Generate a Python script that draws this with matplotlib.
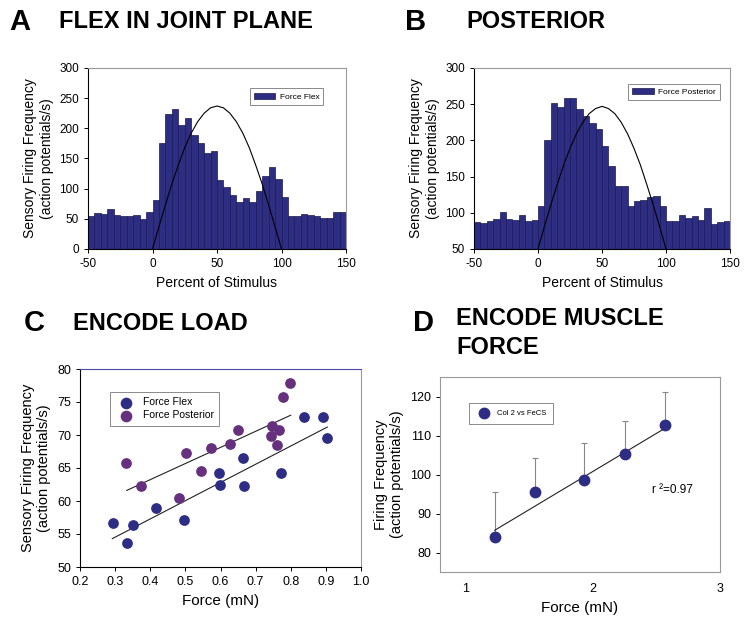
import matplotlib
matplotlib.use("Agg")
import matplotlib.pyplot as plt
import numpy as np

plt.rcParams['font.family'] = ['Liberation Sans', 'DejaVu Sans']
plt.rcParams['axes.unicode_minus'] = False

# histogram bins (left edges, width 5 %)
bin_left = list(range(-50, 150, 5))

flex_hist = [55, 60, 58, 67, 57, 55, 55, 57, 50, 62,
             81, 176, 224, 232, 205, 217, 189, 176, 159, 162,
             115, 103, 90, 78, 85, 78, 96, 121, 136, 116,
             87, 55, 55, 58, 56, 54, 51, 52, 62, 61]

post_hist = [87, 86, 89, 92, 101, 92, 90, 97, 88, 90,
             110, 201, 252, 246, 259, 258, 244, 234, 224, 216,
             192, 165, 137, 137, 109, 116, 117, 122, 123, 110,
             89, 88, 97, 93, 95, 90, 106, 85, 87, 88]

# stimulus trace
stim_x = list(range(0, 105, 5))
flex_stim = [0, 37, 73, 108, 139, 168, 192, 211, 225, 234, 237,
             234, 225, 211, 192, 168, 139, 108, 73, 37, 0]
post_stim = [50, 81, 111, 139, 166, 189, 209, 225, 237, 244, 247,
             244, 237, 225, 209, 189, 166, 139, 111, 81, 50]

# panel C
flex_force = [0.294, 0.333, 0.352, 0.415, 0.495, 0.596, 0.598, 0.664, 0.668, 0.771, 0.838, 0.892, 0.904]
flex_freq = [56.6, 53.7, 56.3, 58.9, 57.1, 64.3, 62.5, 66.5, 62.3, 64.3, 72.7, 72.7, 69.5]
post_force = [0.332, 0.375, 0.483, 0.503, 0.544, 0.572, 0.627, 0.650, 0.743, 0.747, 0.767, 0.760, 0.778, 0.799]
post_freq = [65.7, 62.2, 60.5, 67.2, 64.5, 68.0, 68.7, 70.7, 69.9, 71.3, 70.7, 68.5, 75.8, 77.9]
flex_fit_x, flex_fit_y = [0.292, 0.904], [54.3, 71.2]
post_fit_x, post_fit_y = [0.333, 0.800], [61.6, 73.0]

# panel D
col_force = [1.23, 1.55, 1.93, 2.25, 2.57]
col_freq = [84.1, 95.5, 98.6, 105.3, 112.8]
col_err = [11.3, 8.7, 9.5, 8.5, 8.4]
col_fit_x, col_fit_y = [1.23, 2.57], [85.7, 111.9]

navy = '#2d2d84'
purple = '#66307f'
W, H = 751, 630

fig = plt.figure(figsize=(W / 100, H / 100), dpi=100)


def ax_at(l, t, r, b):
    return fig.add_axes([l / W, 1 - b / H, (r - l) / W, (b - t) / H])


def style(ax, top='#999999', right='#999999', size=8.5):
    ax.spines['top'].set_color(top)
    ax.spines['right'].set_color(right)
    for s in ax.spines.values():
        s.set_linewidth(0.8)
    ax.tick_params(labelsize=size, length=3, width=0.7)


def hist_panel(ax, vals, stim, label, ylim, yticks, leg_box):
    ax.bar(bin_left, vals, width=5, align='edge', color=navy,
           edgecolor='#1a1a4a', linewidth=0.5, label=label)
    ax.plot(stim_x, stim, color='black', lw=0.8)
    ax.set_xlim(-50, 150)
    ax.set_ylim(*ylim)
    ax.set_xticks([-50, 0, 50, 100, 150])
    ax.set_yticks(yticks)
    ax.set_xlabel('Percent of Stimulus', fontsize=10, labelpad=4)
    ax.set_ylabel('Sensory Firing Frequency\n(action potentials/s)', fontsize=10, labelpad=4)
    style(ax)
    leg = ax.legend(loc='upper left', bbox_to_anchor=leg_box, fontsize=6,
                    frameon=True, fancybox=False, handlelength=2.6, handleheight=0.8,
                    borderpad=0.5, handletextpad=0.5)
    leg.get_frame().set_edgecolor('#555555')
    leg.get_frame().set_linewidth(0.6)


axA = ax_at(88, 68, 346, 249)
hist_panel(axA, flex_hist, flex_stim, 'Force Flex', (0, 300), range(0, 301, 50), (0.61, 0.91))

axB = ax_at(474, 68, 730, 249)
hist_panel(axB, post_hist, post_stim, 'Force Posterior', (50, 300), range(50, 301, 50), (0.585, 0.935))

# panel C
axC = ax_at(80, 369, 361, 567)
axC.scatter(flex_force, flex_freq, s=45, color=navy, label='Force Flex', zorder=3)
axC.scatter(post_force, post_freq, s=45, color=purple, label='Force Posterior', zorder=3)
axC.plot(flex_fit_x, flex_fit_y, color='#222222', lw=0.8)
axC.plot(post_fit_x, post_fit_y, color='#222222', lw=0.8)
axC.set_xlim(0.2, 1.0)
axC.set_ylim(50, 80)
axC.set_xticks(np.arange(0.2, 1.01, 0.1))
axC.set_xticklabels(['0.2', '0.3', '0.4', '0.5', '0.6', '0.7', '0.8', '0.9', '1.0'])
axC.set_yticks(range(50, 81, 5))
axC.set_xlabel('Force (mN)', fontsize=11, labelpad=4)
axC.set_ylabel('Sensory Firing Frequency\n(action potentials/s)', fontsize=10.5, labelpad=4)
style(axC, top='#4a4aa0', size=9)
legC = axC.legend(loc='upper left', bbox_to_anchor=(0.09, 0.91), fontsize=7.5,
                  frameon=True, fancybox=False, handletextpad=0.6, borderpad=0.5,
                  labelspacing=0.3, markerscale=1.1)
legC.get_frame().set_edgecolor('#555555')
legC.get_frame().set_linewidth(0.6)

# panel D
axD = ax_at(440, 377, 720, 572)
axD.errorbar(col_force, col_freq, yerr=[np.zeros(len(col_err)), col_err], fmt='none',
             ecolor='#888888', elinewidth=0.8, capsize=2, capthick=0.8, zorder=2)
axD.plot(col_fit_x, col_fit_y, color='#222222', lw=0.8, zorder=2)
axD.plot(col_force, col_freq, 'o', color=navy, ms=7.5, label='Col 2 vs FeCS', zorder=3)
axD.set_xlim(0.8, 3.0)
axD.set_ylim(75, 125)
axD.set_xticks([1, 2, 3])
axD.set_yticks(range(80, 121, 10))
axD.set_xlabel('Force (mN)', fontsize=11, labelpad=4)
axD.set_ylabel('Firing Frequency\n(action potentials/s)', fontsize=10.5, labelpad=4)
style(axD, size=9)
axD.spines['left'].set_color('#999999')
axD.spines['bottom'].set_color('#999999')
axD.tick_params(axis='x', length=0, pad=8)
axD.text(2.63, 96, 'r ²=0.97', fontsize=8.5, ha='center', va='center')
legD = axD.legend(loc='upper left', bbox_to_anchor=(0.09, 0.885), fontsize=5.5,
                  frameon=True, fancybox=False, handletextpad=0.8, borderpad=0.9)
legD.get_frame().set_edgecolor('#555555')
legD.get_frame().set_linewidth(0.6)


# panel letters and titles
def letter(x, y, s):
    fig.text(x / W, 1 - y / H, s, fontsize=21, fontweight='bold', va='center', ha='left')


def heading(x, y, s, **kw):
    fig.text(x / W, 1 - y / H, s, fontsize=17, fontweight='bold', ha='left', **kw)


letter(9, 22, 'A')
heading(59, 22, 'FLEX IN JOINT PLANE', va='center')
letter(405, 22, 'B')
heading(466, 22, 'POSTERIOR', va='center')
letter(24, 323, 'C')
heading(73, 323, 'ENCODE LOAD', va='center')
letter(413, 323, 'D')
heading(456, 307, 'ENCODE MUSCLE\nFORCE', va='top', linespacing=1.35)

fig.savefig('out.png', dpi=100)
